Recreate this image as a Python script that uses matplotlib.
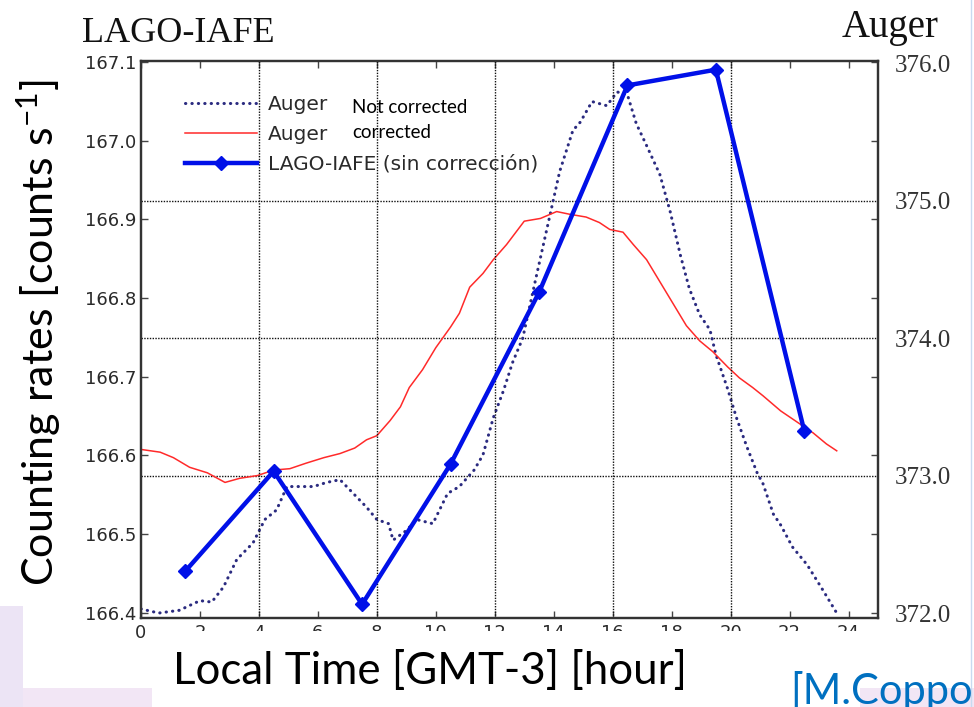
import matplotlib
matplotlib.use("Agg")
import matplotlib.pyplot as plt
from matplotlib.patches import Rectangle
from matplotlib.lines import Line2D
from matplotlib.ticker import MultipleLocator, FixedLocator, FormatStrFormatter

# Auger, not corrected (right axis units)
nc_hours = [0.0, 0.6, 1.3, 2.0, 2.4, 2.8, 3.25, 3.8, 4.2, 4.6, 4.95, 5.4, 5.85,
            6.3, 6.75, 7.2, 7.65, 8.0, 8.4, 8.55, 9.0, 9.35, 9.9, 10.4, 10.8,
            11.3, 11.6, 11.95, 12.3, 12.6, 12.95, 13.4, 13.9, 14.2, 14.65, 14.9,
            15.3, 15.8, 16.15, 16.5, 16.8, 17.15, 17.6, 17.95, 18.3, 18.6, 18.95,
            19.3, 19.5, 19.9, 20.2, 20.55, 20.9, 21.1, 21.45, 21.7, 22.1, 22.6,
            23.15, 23.6]
nc_counts = [372.03, 372.00, 372.02, 372.09, 372.08, 372.19, 372.39, 372.51,
             372.68, 372.75, 372.92, 372.92, 372.92, 372.95, 372.97, 372.87,
             372.77, 372.68, 372.65, 372.53, 372.60, 372.68, 372.65, 372.87,
             372.92, 373.04, 373.15, 373.42, 373.62, 373.82, 374.00, 374.44,
             374.92, 375.21, 375.51, 375.57, 375.72, 375.69, 375.79, 375.77,
             375.56, 375.40, 375.19, 374.92, 374.60, 374.36, 374.17, 374.06,
             373.88, 373.63, 373.42, 373.21, 373.02, 372.94, 372.72, 372.64,
             372.48, 372.35, 372.16, 372.00]

# Auger, corrected (right axis units)
c_hours = [0.0, 0.65, 1.1, 1.65, 2.25, 2.85, 3.35, 3.95, 4.5, 5.05, 5.6, 6.2,
           6.75, 7.25, 7.65, 8.0, 8.45, 8.8, 9.1, 9.55, 10.0, 10.5, 10.8, 11.15,
           11.6, 11.95, 12.4, 13.0, 13.55, 14.1, 14.55, 15.1, 15.55, 15.9, 16.35,
           16.7, 17.15, 17.6, 18.05, 18.5, 18.95, 19.4, 19.9, 20.3, 20.75, 21.1,
           21.7, 22.25, 22.8, 23.25, 23.6]
c_counts = [373.19, 373.17, 373.13, 373.06, 373.02, 372.95, 372.98, 373.00,
            373.04, 373.05, 373.09, 373.13, 373.16, 373.20, 373.26, 373.29,
            373.40, 373.50, 373.64, 373.77, 373.93, 374.08, 374.18, 374.37,
            374.47, 374.57, 374.68, 374.85, 374.87, 374.92, 374.90, 374.88,
            374.84, 374.79, 374.77, 374.68, 374.57, 374.41, 374.25, 374.09,
            373.98, 373.90, 373.79, 373.71, 373.64, 373.58, 373.47, 373.39,
            373.31, 373.23, 373.18]

# LAGO-IAFE (left axis units)
lago_hours = [1.5, 4.5, 7.5, 10.5, 13.5, 16.5, 19.5, 22.5]
lago_counts = [166.453, 166.580, 166.411, 166.589, 166.807, 167.070, 167.090, 166.631]

right_ticks = [372, 373, 374, 375, 376]
grid_right = [373, 374, 375]
grid_hours = [4, 8, 12, 16, 20]

W, H = 974, 707


def px(x, y):
    return x / W, 1 - y / H


fig = plt.figure(figsize=(W / 100, H / 100), dpi=100, facecolor="white")

ax = fig.add_axes([141 / W, 1 - 618 / H, 737 / W, 557 / H])
ax2 = ax.twinx()
ax.set_zorder(ax2.get_zorder() + 1)
ax.patch.set_visible(False)

l_nc, = ax2.plot(nc_hours, nc_counts, color="#2b2b80", lw=2.2,
                 ls=(0, (0.1, 2.0)), dash_capstyle="round", label="Auger")
l_c, = ax2.plot(c_hours, c_counts, color="#ff2a2a", lw=1.1, label="Auger")
l_lago, = ax.plot(lago_hours, lago_counts, color="#0010e8", lw=3.2, marker="D",
                  ms=7, label="LAGO-IAFE (sin corrección)")

ax.set_xlim(0, 25)
ax.set_ylim(166.3936, 167.101)
ax2.set_ylim(371.964, 376.015)

ax.xaxis.set_major_locator(MultipleLocator(2))
ax.xaxis.set_major_formatter(FormatStrFormatter("%d"))
ax.xaxis.set_minor_locator(FixedLocator(grid_hours))
ax.xaxis.remove_overlapping_locs = False
ax.yaxis.set_major_locator(MultipleLocator(0.1))
ax.yaxis.set_major_formatter(FormatStrFormatter("%.1f"))

ax.tick_params(which="major", direction="in", length=5, width=1, top=True,
               right=True, labelsize=13, labelcolor="#2a2a2a", color="#444")
ax.tick_params(axis="x", which="major", pad=4)
ax.tick_params(which="minor", length=0)
ax.grid(which="minor", axis="x", color="#111", ls=(0, (1, 1)), lw=1)

ax2.yaxis.set_major_locator(FixedLocator(right_ticks))
ax2.yaxis.set_major_formatter(FormatStrFormatter("%.1f"))
ax2.yaxis.set_minor_locator(FixedLocator(grid_right))
ax2.yaxis.remove_overlapping_locs = False
ax2.tick_params(axis="y", which="both", length=0, pad=12, labelsize=18,
                labelcolor="#333")
for lab in ax2.get_yticklabels():
    lab.set_family("Liberation Serif")
ax2.grid(which="minor", axis="y", color="#111", ls=(0, (1, 1)), lw=1)

for a in (ax, ax2):
    for s in a.spines.values():
        s.set_linewidth(1.6)
        s.set_color("#333")

leg = ax.legend(handles=[l_nc, l_c, l_lago], loc="upper left",
                bbox_to_anchor=(0.0597, 0.9396), frameon=False, fontsize=14.5,
                handlelength=3.6, handletextpad=0.5, labelspacing=0.55,
                borderpad=0, borderaxespad=0)
for t in leg.get_texts():
    t.set_color("#2a2a2a")

# annotations next to the legend
fig.text(*px(352, 113), "Not corrected", fontsize=13.5, family="Lato",
         color="black", va="baseline")
fig.text(*px(352, 138), "corrected", fontsize=13.5, family="Lato",
         color="black", va="baseline")

# panel titles
fig.text(*px(82, 42), "LAGO-IAFE", fontsize=26, family="Liberation Serif",
         va="baseline", color="#111")
fig.text(*px(842, 37), "Auger", fontsize=28, family="Liberation Serif",
         va="baseline", color="#111")

# slide decorations: white cover over clipped tick labels, pink band, side line
fig.add_artist(Rectangle(px(150, 707), (860 - 150) / W, 76 / H,
                         transform=fig.transFigure, facecolor="white",
                         edgecolor="none", zorder=5))
fig.add_artist(Rectangle(px(0, 707), 152 / W, 19 / H, transform=fig.transFigure,
                         facecolor="#f2e6f5", edgecolor="none", zorder=5))
fig.add_artist(Rectangle(px(0, 707), 23 / W, 101 / H, transform=fig.transFigure,
                         facecolor="#ece4f5", edgecolor="none", zorder=5))
fig.add_artist(Rectangle(px(860, 707), 114 / W, 19 / H, transform=fig.transFigure,
                         facecolor="#f2e6f5", edgecolor="none", zorder=5))
fig.add_artist(Line2D([971 / W, 971 / W], [0, 1], transform=fig.transFigure,
                      color="#c8daf0", lw=1, zorder=5))

# axis labels
fig.text(*px(173, 684), "Local Time [GMT-3] [hour]", fontsize=31.6, family="Lato",
         va="baseline", ha="left", color="black", zorder=6)
fig.text(*px(39, 333), "Counting rates [counts s$\\mathregular{^{-1}}$]",
         fontsize=31, family="Lato", rotation=90, va="center", ha="center",
         color="black", zorder=6)
fig.text(*px(790, 704), "[M.Coppo", fontsize=30, family="Lato",
         va="baseline", ha="left", color="#0070c0", zorder=6)

fig.savefig("out.png", dpi=100, facecolor="white")
